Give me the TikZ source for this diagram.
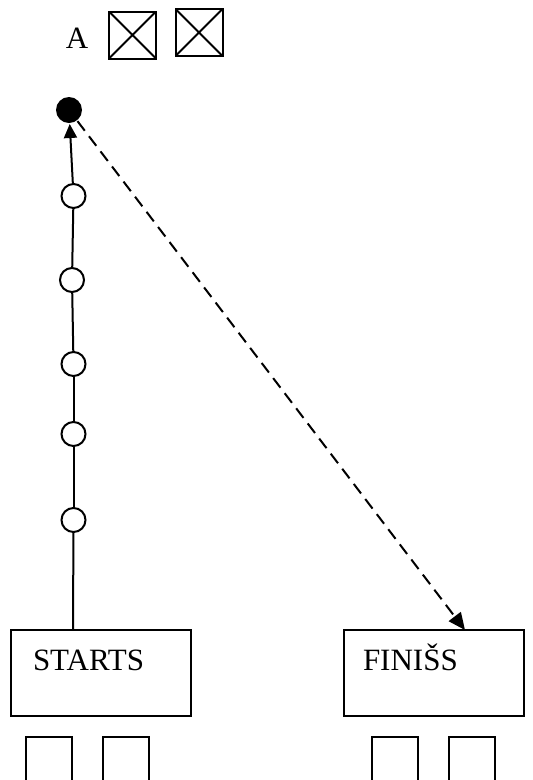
\documentclass[tikz,border=0pt]{standalone}
\usepackage{fontspec}
\setmainfont{Liberation Serif}
\usetikzlibrary{arrows.meta}
\begin{document}
\begin{tikzpicture}[x=1pt,y=-1pt,
  every path/.style={line width=2pt},
  txt/.style={inner sep=0pt,font=\fontsize{31}{36}\selectfont},
  mainbox/.style={draw,line width=2pt,minimum width=180pt,minimum height=86pt,inner sep=0pt},
  smallbox/.style={draw,line width=2pt,minimum width=46pt,minimum height=60pt,inner sep=0pt},
  crossbox/.style={draw,line width=2pt,minimum width=47pt,minimum height=47pt,inner sep=0pt,
    path picture={\draw[line width=2pt] (path picture bounding box.north west) -- (path picture bounding box.south east)
      (path picture bounding box.north east) -- (path picture bounding box.south west);}},
  hollow/.style={circle,draw,fill=white,line width=2pt,minimum size=24pt,inner sep=0pt},
  solid dot/.style={circle,fill=black,minimum size=26pt,inner sep=0pt},
  arr/.style={-{Triangle[length=14pt,width=13pt]}},
  darr/.style={-{Triangle[length=17pt,width=15pt]},dash pattern=on 12pt off 7pt}
]
\useasboundingbox (0,0) rectangle (533,780);
% top label and crossed boxes
\node[txt,anchor=base] (A) at (77,48) {A};
\node[crossbox] (x1) at (132.5,35) {};
\node[crossbox] (x2) at (199,32.5) {};
% main boxes
\node[mainbox] (start) at (101,673) {};
\node[txt,anchor=base west] (starttxt) at (32,670) {STARTS};
\node[mainbox] (fin) at (433.5,673) {};
\node[txt,anchor=base west] (fintxt) at (362,670) {FINIŠS};
% small boxes at bottom
\node[smallbox,anchor=north] (s1) at (49,736) {};
\node[smallbox,anchor=north] (s2) at (126,736) {};
\node[smallbox,anchor=north] (s3) at (395,736) {};
\node[smallbox,anchor=north] (s4) at (471.5,736) {};
% circles
\node[solid dot] (top) at (69,110) {};
\node[hollow] (c1) at (73.5,196) {};
\node[hollow] (c2) at (72,280) {};
\node[hollow] (c3) at (73.5,364) {};
\node[hollow] (c4) at (73.5,434) {};
\node[hollow] (c5) at (73.5,520) {};
\coordinate (startTop) at (73,630);
\coordinate (finTop) at (465,630);
% connectors
\draw (startTop) -- (c5);
\draw (c5) -- (c4);
\draw (c4) -- (c3);
\draw (c3) -- (c2);
\draw (c2) -- (c1);
\draw[arr] (c1) -- (top);
\draw[darr] (top) -- (finTop);
\end{tikzpicture}
\end{document}
